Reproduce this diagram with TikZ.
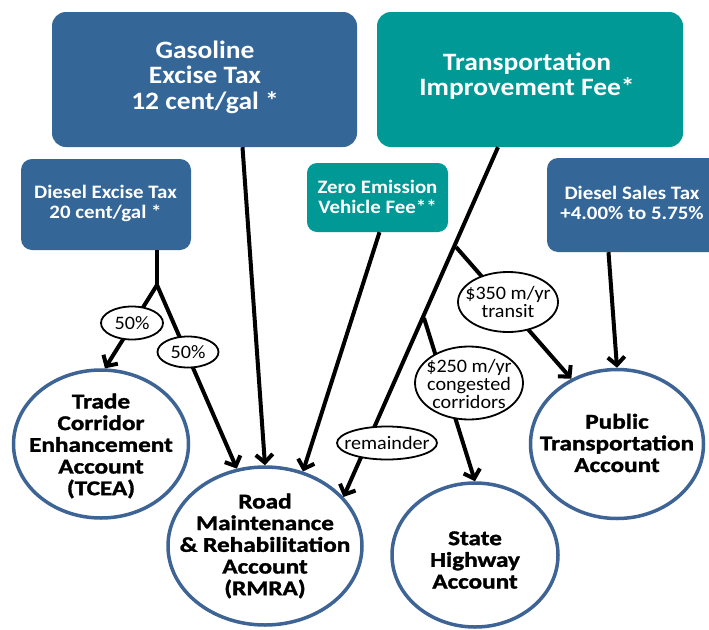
\documentclass[tikz,border=0pt]{standalone}
\usepackage{fontspec}
\setmainfont{Carlito}
\newfontfamily\boxfont[FakeStretch=1.1]{Carlito}
\newfontfamily\circfont[FakeStretch=1.2,FakeBold=1.5]{Carlito Bold}
\newfontfamily\lblfont[FakeStretch=1.06]{Carlito}
\usetikzlibrary{arrows.meta,shapes.geometric}
\definecolor{boxblue}{RGB}{52,102,152}
\definecolor{boxteal}{RGB}{0,153,150}
\definecolor{ringblue}{RGB}{62,100,150}
\tikzset{
  srcbox/.style={draw=none, rounded corners=14pt, inner sep=0pt},
  bigtext/.style={text=white, align=center, inner sep=0pt, font=\boxfont\bfseries\fontsize{25}{25.5}\selectfont},
  smalltext/.style={text=white, align=center, inner sep=0pt, font=\boxfont\bfseries\fontsize{19}{20}\selectfont},
  acct/.style={ellipse, draw=ringblue, line width=3.5pt, fill=white, inner sep=0pt},
  accttext/.style={align=center, inner sep=0pt, font=\circfont\fontsize{21}{21.7}\selectfont},
  share/.style={ellipse, draw=black, line width=1.8pt, fill=white, inner sep=0pt},
  sharetext/.style={align=center, inner sep=0pt, font=\lblfont\fontsize{19}{18}\selectfont},
  flow/.style={draw=black, line width=4pt},
  arr/.style={flow, -{Straight Barb[length=8pt,width=17pt]}},
}
\begin{document}
\begin{tikzpicture}[x=1pt,y=-1pt]
\useasboundingbox (0,0) rectangle (709,629);
\fill[white] (0,0) rectangle (709,629);
% source boxes
\node[srcbox, fill=boxblue, minimum width=305pt, minimum height=135pt] (gas) at (204.5,79.5) {};
\node[bigtext] (gast) at (205,77) {Gasoline\\Excise Tax\\12 cent/gal *};
\node[srcbox, fill=boxteal, minimum width=306pt, minimum height=135pt] (tif) at (530,79.5) {};
\node[bigtext] (tift) at (527,76) {Transportation\\Improvement Fee*};
\node[srcbox, rounded corners=11pt, fill=boxblue, minimum width=170pt, minimum height=91pt] (dex) at (106,204.5) {};
\node[smalltext] (dext) at (105.5,203) {Diesel Excise Tax\\20 cent/gal *};
\node[srcbox, rounded corners=10pt, fill=boxteal, minimum width=141pt, minimum height=69pt] (zev) at (377.5,197.5) {};
\node[smalltext] (zevt) at (377.5,197) {Zero Emission\\Vehicle Fee**};
\node[srcbox, rounded corners=11pt, fill=boxblue, minimum width=175pt, minimum height=94pt] (dst) at (634.5,205) {};
\node[smalltext] (dstt) at (632,203) {Diesel Sales Tax\\+4.00\% to 5.75\%};
% accounts
\node[acct, minimum width=175pt, minimum height=148pt] (tcea) at (101,444) {};
\node[accttext] (tceat) at (101,446) {Trade\\Corridor\\Enhancement\\Account\\(TCEA)};
\node[acct, minimum width=194pt, minimum height=158pt] (rmra) at (265,546) {};
\node[accttext] (rmrat) at (265,546) {Road\\Maintenance\\\& Rehabilitation\\Account\\(RMRA)};
\node[acct, minimum width=166pt, minimum height=144pt] (sha) at (475,555) {};
\node[accttext] (shat) at (475,560) {State\\Highway\\Account};
\node[acct, minimum width=173pt, minimum height=149pt] (pta) at (617,444) {};
\node[accttext] (ptat) at (617,443) {Public\\Transportation\\Account};
% branch points
\coordinate (dexb) at (157,285);
\coordinate (tb1) at (456,247);
\coordinate (tb2) at (424,318);
% flows
\draw[arr] ([xshift=38pt]gas.south) -- (rmra.north);
\draw[flow] ([xshift=51pt]dex.south) -- (dexb);
\draw[arr] (dexb) -- (tcea.87);
\draw[arr] (dexb) -- (rmra.110);
\draw[arr] ([xshift=2pt]zev.south) -- (rmra.63);
\draw[arr] ([xshift=-32pt]tif.south) -- (rmra.32);
\draw[arr] (tb1) -- (pta.125);
\draw[arr] (tb2) -- (sha.north);
\draw[arr] ([xshift=-26pt]dst.south) -- (pta.north);
% share labels
\node[share, minimum width=62pt, minimum height=33pt] (l50a) at (132,323) {};
\node[sharetext] (l50at) at (132,323) {50\%};
\node[share, minimum width=61pt, minimum height=31pt] (l50b) at (188,352) {};
\node[sharetext] (l50bt) at (188,352) {50\%};
\node[share, minimum width=100pt, minimum height=60pt] (l350) at (508,302) {};
\node[sharetext] (l350t) at (508,302) {\$350 m/yr\\transit};
\node[share, minimum width=108pt, minimum height=73pt] (l250) at (469,383) {};
\node[sharetext] (l250t) at (469,384) {\$250 m/yr\\congested\\corridors};
\node[share, minimum width=100pt, minimum height=33pt] (lrem) at (387,443) {};
\node[sharetext] (lremt) at (387,443) {remainder};
\end{tikzpicture}
\end{document}
